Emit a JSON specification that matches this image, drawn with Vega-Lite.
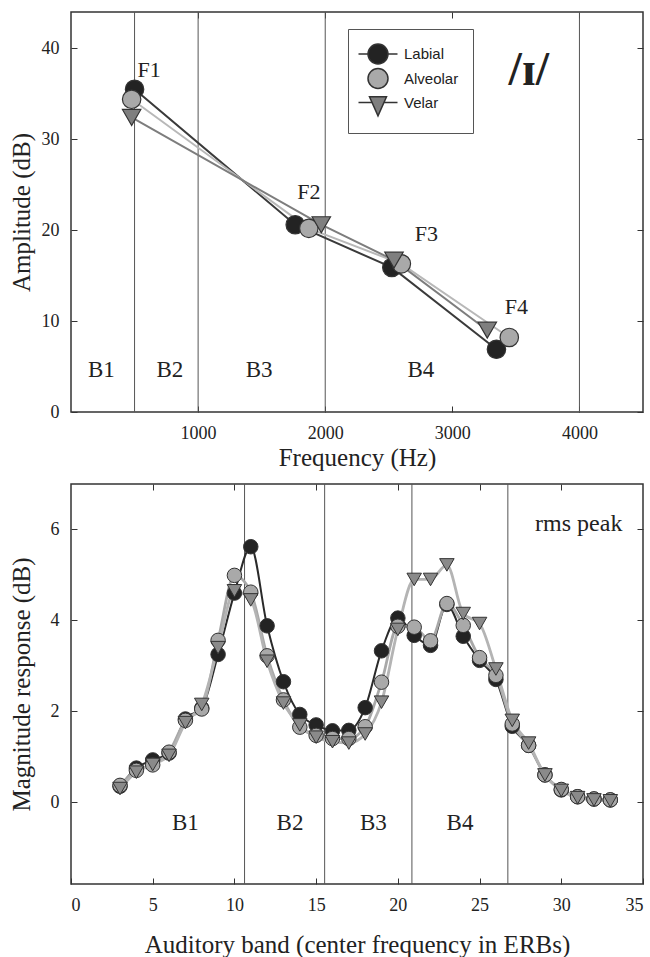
{
  "$schema": "https://vega.github.io/schema/vega-lite/v6.json",
  "background": "white",
  "padding": {"left": 8, "top": 10, "right": 5, "bottom": 5},
  "config": {
    "font": "Liberation Serif",
    "view": {"stroke": "#333", "strokeWidth": 1.5},
    "axis": {
      "grid": false, "domain": false, "tickSize": -6, "tickColor": "#333", "tickWidth": 1,
      "labelFont": "Liberation Serif", "labelFontSize": 18, "labelColor": "#222", "format": "d",
      "titleFont": "Liberation Serif", "titleFontSize": 25, "titleFontWeight": "normal", "titleColor": "#222"
    },
    "text": {"font": "Liberation Serif", "color": "#222"}
  },
  "datasets": {
    "formants": [
      {"series": "Labial", "formant": "F1", "freq": 500, "amp": 35.5},
      {"series": "Labial", "formant": "F2", "freq": 1764, "amp": 20.6},
      {"series": "Labial", "formant": "F3", "freq": 2524, "amp": 15.9},
      {"series": "Labial", "formant": "F4", "freq": 3347, "amp": 6.9},
      {"series": "Alveolar", "formant": "F1", "freq": 477, "amp": 34.4},
      {"series": "Alveolar", "formant": "F2", "freq": 1871, "amp": 20.2},
      {"series": "Alveolar", "formant": "F3", "freq": 2599, "amp": 16.3},
      {"series": "Alveolar", "formant": "F4", "freq": 3448, "amp": 8.2},
      {"series": "Velar", "formant": "F1", "freq": 477, "amp": 32.4},
      {"series": "Velar", "formant": "F2", "freq": 1969, "amp": 20.6},
      {"series": "Velar", "formant": "F3", "freq": 2541, "amp": 16.7},
      {"series": "Velar", "formant": "F4", "freq": 3275, "amp": 9.0}
    ],
    "formantLabels": [
      {"label": "F1", "freq": 615, "amp": 37.6},
      {"label": "F2", "freq": 1871, "amp": 24.2},
      {"label": "F3", "freq": 2795, "amp": 19.6},
      {"label": "F4", "freq": 3504, "amp": 11.5}
    ],
    "bandLinesHz": [{"freq": 500}, {"freq": 1000}, {"freq": 2000}, {"freq": 4000}],
    "bandLabelsHz": [
      {"label": "B1", "freq": 239, "amp": 4.6},
      {"label": "B2", "freq": 778, "amp": 4.6},
      {"label": "B3", "freq": 1480, "amp": 4.6},
      {"label": "B4", "freq": 2753, "amp": 4.6}
    ],
    "bandLinesErb": [{"erb": 10.62}, {"erb": 15.52}, {"erb": 20.86}, {"erb": 26.73}],
    "bandLabelsErb": [
      {"label": "B1", "erb": 7.0, "db": -0.46},
      {"label": "B2", "erb": 13.4, "db": -0.46},
      {"label": "B3", "erb": 18.5, "db": -0.46},
      {"label": "B4", "erb": 23.8, "db": -0.46}
    ],
    "rms": [
      {"series": "Labial", "erb": 3, "db": 0.35},
      {"series": "Labial", "erb": 4, "db": 0.75},
      {"series": "Labial", "erb": 5, "db": 0.93},
      {"series": "Labial", "erb": 6, "db": 1.08},
      {"series": "Labial", "erb": 7, "db": 1.83},
      {"series": "Labial", "erb": 8, "db": 2.07},
      {"series": "Labial", "erb": 9, "db": 3.25},
      {"series": "Labial", "erb": 10, "db": 4.6},
      {"series": "Labial", "erb": 11, "db": 5.62},
      {"series": "Labial", "erb": 12, "db": 3.88},
      {"series": "Labial", "erb": 13, "db": 2.65},
      {"series": "Labial", "erb": 14, "db": 1.93},
      {"series": "Labial", "erb": 15, "db": 1.7},
      {"series": "Labial", "erb": 16, "db": 1.57},
      {"series": "Labial", "erb": 17, "db": 1.58},
      {"series": "Labial", "erb": 18, "db": 2.08},
      {"series": "Labial", "erb": 19, "db": 3.33},
      {"series": "Labial", "erb": 20, "db": 4.05},
      {"series": "Labial", "erb": 21, "db": 3.67},
      {"series": "Labial", "erb": 22, "db": 3.45},
      {"series": "Labial", "erb": 23, "db": 4.35},
      {"series": "Labial", "erb": 24, "db": 3.65},
      {"series": "Labial", "erb": 25, "db": 3.12},
      {"series": "Labial", "erb": 26, "db": 2.7},
      {"series": "Labial", "erb": 27, "db": 1.67},
      {"series": "Labial", "erb": 28, "db": 1.25},
      {"series": "Labial", "erb": 29, "db": 0.6},
      {"series": "Labial", "erb": 30, "db": 0.27},
      {"series": "Labial", "erb": 31, "db": 0.12},
      {"series": "Labial", "erb": 32, "db": 0.07},
      {"series": "Labial", "erb": 33, "db": 0.05},
      {"series": "Alveolar", "erb": 3, "db": 0.37},
      {"series": "Alveolar", "erb": 4, "db": 0.7},
      {"series": "Alveolar", "erb": 5, "db": 0.82},
      {"series": "Alveolar", "erb": 6, "db": 1.1},
      {"series": "Alveolar", "erb": 7, "db": 1.8},
      {"series": "Alveolar", "erb": 8, "db": 2.05},
      {"series": "Alveolar", "erb": 9, "db": 3.56},
      {"series": "Alveolar", "erb": 10, "db": 4.99},
      {"series": "Alveolar", "erb": 11, "db": 4.62},
      {"series": "Alveolar", "erb": 12, "db": 3.22},
      {"series": "Alveolar", "erb": 13, "db": 2.25},
      {"series": "Alveolar", "erb": 14, "db": 1.65},
      {"series": "Alveolar", "erb": 15, "db": 1.47},
      {"series": "Alveolar", "erb": 16, "db": 1.4},
      {"series": "Alveolar", "erb": 17, "db": 1.4},
      {"series": "Alveolar", "erb": 18, "db": 1.66},
      {"series": "Alveolar", "erb": 19, "db": 2.64},
      {"series": "Alveolar", "erb": 20, "db": 3.87},
      {"series": "Alveolar", "erb": 21, "db": 3.85},
      {"series": "Alveolar", "erb": 22, "db": 3.55},
      {"series": "Alveolar", "erb": 23, "db": 4.37},
      {"series": "Alveolar", "erb": 24, "db": 3.89},
      {"series": "Alveolar", "erb": 25, "db": 3.18},
      {"series": "Alveolar", "erb": 26, "db": 2.79},
      {"series": "Alveolar", "erb": 27, "db": 1.72},
      {"series": "Alveolar", "erb": 28, "db": 1.25},
      {"series": "Alveolar", "erb": 29, "db": 0.6},
      {"series": "Alveolar", "erb": 30, "db": 0.28},
      {"series": "Alveolar", "erb": 31, "db": 0.12},
      {"series": "Alveolar", "erb": 32, "db": 0.07},
      {"series": "Alveolar", "erb": 33, "db": 0.05},
      {"series": "Velar", "erb": 3, "db": 0.3},
      {"series": "Velar", "erb": 4, "db": 0.66},
      {"series": "Velar", "erb": 5, "db": 0.83},
      {"series": "Velar", "erb": 6, "db": 1.03},
      {"series": "Velar", "erb": 7, "db": 1.75},
      {"series": "Velar", "erb": 8, "db": 2.15},
      {"series": "Velar", "erb": 9, "db": 3.4},
      {"series": "Velar", "erb": 10, "db": 4.65},
      {"series": "Velar", "erb": 11, "db": 4.45},
      {"series": "Velar", "erb": 12, "db": 3.1},
      {"series": "Velar", "erb": 13, "db": 2.18},
      {"series": "Velar", "erb": 14, "db": 1.7},
      {"series": "Velar", "erb": 15, "db": 1.43},
      {"series": "Velar", "erb": 16, "db": 1.33},
      {"series": "Velar", "erb": 17, "db": 1.3},
      {"series": "Velar", "erb": 18, "db": 1.5},
      {"series": "Velar", "erb": 19, "db": 2.2},
      {"series": "Velar", "erb": 20, "db": 3.8},
      {"series": "Velar", "erb": 21, "db": 4.9},
      {"series": "Velar", "erb": 22, "db": 4.9},
      {"series": "Velar", "erb": 23, "db": 5.22},
      {"series": "Velar", "erb": 24, "db": 4.15},
      {"series": "Velar", "erb": 25, "db": 3.93},
      {"series": "Velar", "erb": 26, "db": 2.93},
      {"series": "Velar", "erb": 27, "db": 1.8},
      {"series": "Velar", "erb": 28, "db": 1.3},
      {"series": "Velar", "erb": 29, "db": 0.6},
      {"series": "Velar", "erb": 30, "db": 0.26},
      {"series": "Velar", "erb": 31, "db": 0.1},
      {"series": "Velar", "erb": 32, "db": 0.05},
      {"series": "Velar", "erb": 33, "db": 0.03}
    ]
  },
  "spacing": 11,
  "resolve": {
    "scale": {"fill": "independent", "shape": "independent"},
    "legend": {"fill": "independent", "shape": "independent"}
  },
  "vconcat": [
    {
      "width": 572,
      "height": 400,
      "resolve": {"axis": {"x": "independent", "y": "independent"}},
      "layer": [
        {
          "data": {"name": "bandLinesHz"},
          "mark": {"type": "rule", "color": "#555", "strokeWidth": 1},
          "encoding": {
            "x": {"field": "freq", "type": "quantitative", "scale": {"domain": [0, 4500], "nice": false}, "axis": null}
          }
        },
        {
          "data": {"name": "formants"},
          "mark": {"type": "line", "strokeWidth": 2},
          "encoding": {
            "x": {"field": "freq", "type": "quantitative", "scale": {"domain": [0, 4500], "nice": false},
                  "axis": {"orient": "bottom", "title": "Frequency (Hz)", "values": [1000, 2000, 3000, 4000], "labelPadding": 18, "titleY": 45, "titleBaseline": "middle"}},
            "y": {"field": "amp", "type": "quantitative", "scale": {"domain": [0, 44], "nice": false},
                  "axis": {"orient": "left", "title": "Amplitude (dB)", "values": [0, 10, 20, 30, 40], "labelPadding": 18, "titleX": -50, "titleBaseline": "middle"}},
            "detail": {"field": "series", "type": "nominal"},
            "stroke": {
              "condition": [
                {"test": "datum.series === 'Labial'", "value": "#3a3a3a"},
                {"test": "datum.series === 'Velar'", "value": "#7d7d7d"}
              ],
              "value": "#b8b8b8"
            },
            "order": {"field": "formant"}
          }
        },
        {
          "data": {"name": "formants"},
          "mark": {"type": "point", "filled": true, "stroke": "#333", "strokeWidth": 1.2, "opacity": 1, "size": 340},
          "encoding": {
            "x": {"field": "freq", "type": "quantitative", "scale": {"domain": [0, 4500], "nice": false},
                  "axis": {"orient": "top", "title": null, "labels": false, "values": [1000, 2000, 3000, 4000]}},
            "y": {"field": "amp", "type": "quantitative", "scale": {"domain": [0, 44], "nice": false},
                  "axis": {"orient": "right", "title": null, "labels": false, "values": [0, 10, 20, 30, 40]}},
            "fill": {
              "condition": [
                {"test": "datum.series === 'Labial'", "value": "#232323"},
                {"test": "datum.series === 'Velar'", "value": "#7f7f7f"}
              ],
              "value": "#a9a9a9"
            },
            "shape": {"condition": {"test": "datum.series === 'Velar'", "value": "triangle-down"}, "value": "circle"}
          }
        },
        {
          "data": {"name": "formants"},
          "transform": [{"filter": "false"}],
          "mark": {"type": "point", "filled": true, "stroke": "#333", "strokeWidth": 1.3, "opacity": 1},
          "encoding": {
            "fill": {"field": "series", "type": "nominal",
                     "scale": {"domain": ["Labial", "Alveolar", "Velar"], "range": ["#232323", "#a9a9a9", "#7f7f7f"]},
                     "legend": {
                       "orient": "none", "legendX": 277, "legendY": 17, "title": null,
                       "padding": 14, "strokeColor": "#555", "fillColor": "white",
                       "labelFont": "Liberation Sans", "labelFontSize": 15, "labelColor": "#222",
                       "symbolSize": 400, "rowPadding": -1.5, "labelOffset": 15, "symbolOffset": 5
                     }},
            "shape": {"field": "series", "type": "nominal",
                      "scale": {"domain": ["Labial", "Alveolar", "Velar"],
                                "range": ["M 1 0 A 1 1 0 1 1 -1 0 A 1 1 0 1 1 1 0 Z M -1.95 0 L -1 0 M 1 0 L 1.95 0",
                                          "circle",
                                          "M -0.85 -0.57 L 0.85 -0.57 L 0 1.33 Z M -1.95 0 L -0.6 0 M 0.6 0 L 1.95 0"]},
                      "legend": {
                       "orient": "none", "legendX": 277, "legendY": 17, "title": null,
                       "padding": 14, "strokeColor": "#555", "fillColor": "white",
                       "labelFont": "Liberation Sans", "labelFontSize": 15, "labelColor": "#222",
                       "symbolSize": 400, "rowPadding": -1.5, "labelOffset": 15, "symbolOffset": 5
                     }}
          }
        },
        {
          "data": {"name": "formantLabels"},
          "mark": {"type": "text", "fontSize": 22},
          "encoding": {
            "x": {"field": "freq", "type": "quantitative", "scale": {"domain": [0, 4500], "nice": false}, "axis": null},
            "y": {"field": "amp", "type": "quantitative", "scale": {"domain": [0, 44], "nice": false}, "axis": null},
            "text": {"field": "label"}
          }
        },
        {
          "data": {"name": "bandLabelsHz"},
          "mark": {"type": "text", "fontSize": 23},
          "encoding": {
            "x": {"field": "freq", "type": "quantitative", "scale": {"domain": [0, 4500], "nice": false}, "axis": null},
            "y": {"field": "amp", "type": "quantitative", "scale": {"domain": [0, 44], "nice": false}, "axis": null},
            "text": {"field": "label"}
          }
        },
        {
          "data": {"values": [{"label": "/ɪ/", "freq": 3602, "amp": 36.0}]},
          "mark": {"type": "text", "fontSize": 48, "fontWeight": "bold", "baseline": "alphabetic"},
          "encoding": {
            "x": {"field": "freq", "type": "quantitative", "scale": {"domain": [0, 4500], "nice": false}, "axis": null},
            "y": {"field": "amp", "type": "quantitative", "scale": {"domain": [0, 44], "nice": false}, "axis": null},
            "text": {"field": "label"}
          }
        }
      ]
    },
    {
      "width": 572,
      "height": 400,
      "resolve": {"axis": {"x": "independent", "y": "independent"}},
      "layer": [
        {
          "data": {"name": "bandLinesErb"},
          "mark": {"type": "rule", "color": "#555", "strokeWidth": 1},
          "encoding": {
            "x": {"field": "erb", "type": "quantitative", "scale": {"domain": [0, 35], "nice": false}, "axis": null}
          }
        },
        {
          "data": {"name": "rms"},
          "mark": {"type": "line", "interpolate": "monotone"},
          "encoding": {
            "x": {"field": "erb", "type": "quantitative", "scale": {"domain": [0, 35], "nice": false},
                  "axis": {"orient": "bottom", "title": "Auditory band (center frequency in ERBs)", "values": [0, 5, 10, 15, 20, 25, 30, 35], "labelPadding": 18, "titleY": 60, "titleBaseline": "middle"}},
            "y": {"field": "db", "type": "quantitative", "scale": {"domain": [-1.8, 7], "nice": false, "zero": false},
                  "axis": {"orient": "left", "title": "Magnitude response (dB)", "values": [0, 2, 4, 6], "labelPadding": 18, "titleX": -50, "titleBaseline": "middle"}},
            "detail": {"field": "series", "type": "nominal"},
            "stroke": {
              "condition": [
                {"test": "datum.series === 'Labial'", "value": "#2a2a2a"},
                {"test": "datum.series === 'Velar'", "value": "#b4b4b4"}
              ],
              "value": "#a8a8a8"
            },
            "strokeWidth": {"condition": {"test": "datum.series === 'Labial'", "value": 2}, "value": 2.8}
          }
        },
        {
          "data": {"name": "rms"},
          "mark": {"type": "point", "filled": true, "stroke": "#333", "strokeWidth": 1, "opacity": 1, "size": 210},
          "encoding": {
            "x": {"field": "erb", "type": "quantitative", "scale": {"domain": [0, 35], "nice": false},
                  "axis": {"orient": "top", "title": null, "labels": false, "values": [5, 10, 15, 20, 25, 30]}},
            "y": {"field": "db", "type": "quantitative", "scale": {"domain": [-1.8, 7], "nice": false, "zero": false},
                  "axis": {"orient": "right", "title": null, "labels": false, "values": [0, 2, 4, 6]}},
            "fill": {
              "condition": [
                {"test": "datum.series === 'Labial'", "value": "#232323"},
                {"test": "datum.series === 'Velar'", "value": "#8a8a8a"}
              ],
              "value": "#a9a9a9"
            },
            "shape": {"condition": {"test": "datum.series === 'Velar'", "value": "triangle-down"}, "value": "circle"}
          }
        },
        {
          "data": {"name": "bandLabelsErb"},
          "mark": {"type": "text", "fontSize": 23},
          "encoding": {
            "x": {"field": "erb", "type": "quantitative", "scale": {"domain": [0, 35], "nice": false}, "axis": null},
            "y": {"field": "db", "type": "quantitative", "scale": {"domain": [-1.8, 7], "nice": false, "zero": false}, "axis": null},
            "text": {"field": "label"}
          }
        },
        {
          "data": {"values": [{"label": "rms peak", "erb": 31.07, "db": 6.13}]},
          "mark": {"type": "text", "fontSize": 24},
          "encoding": {
            "x": {"field": "erb", "type": "quantitative", "scale": {"domain": [0, 35], "nice": false}, "axis": null},
            "y": {"field": "db", "type": "quantitative", "scale": {"domain": [-1.8, 7], "nice": false, "zero": false}, "axis": null},
            "text": {"field": "label"}
          }
        }
      ]
    }
  ]
}
